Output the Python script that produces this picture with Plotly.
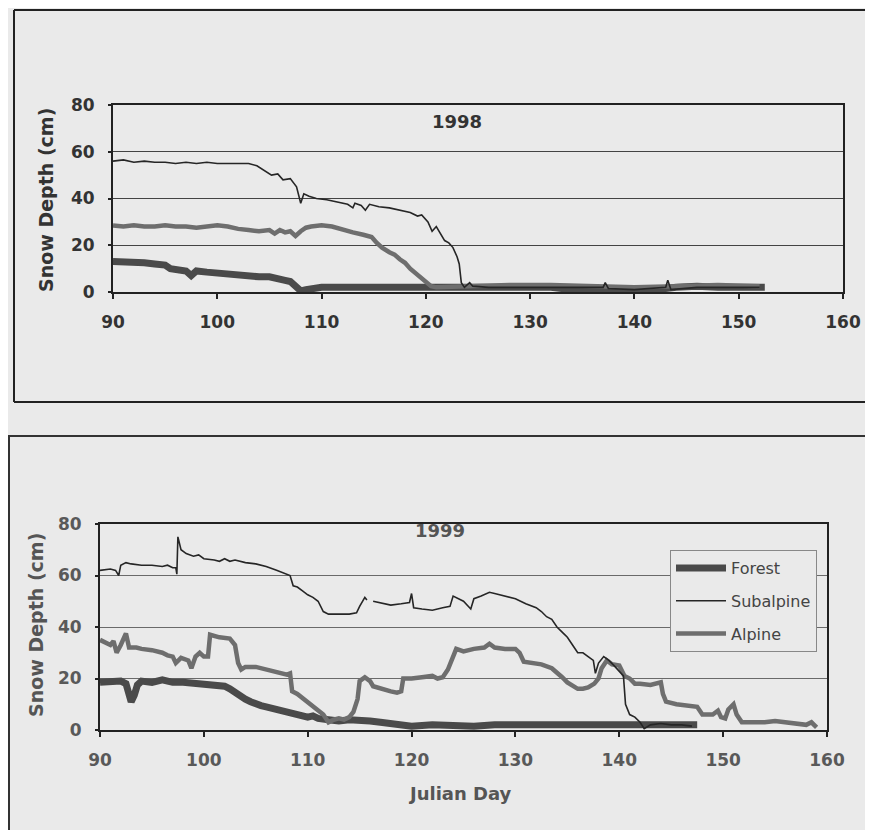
import plotly.graph_objects as go

# ---------------- 1998 data ----------------
d98_sub = [90, 91, 92, 93, 94, 95, 96, 97, 98, 99, 100, 101, 102, 103, 103.8, 104.5, 105.2, 105.8,
           106.3, 107, 107.6, 108, 108.3, 108.8, 109.5, 110.5, 111.5, 112.5, 113, 113.2, 113.8, 114.2,
           114.6, 115.5, 116.5, 117.5, 118.5, 119.2, 119.6, 120.2, 120.6, 121, 121.4, 121.8, 122.2,
           122.6, 123, 123.2, 123.4, 123.7, 124.2, 124.5, 126, 128, 132, 137, 137.2, 137.5, 140, 143,
           143.2, 143.5, 146, 150, 152]
v98_sub = [56, 56.5, 55.5, 56, 55.5, 55.5, 55, 55.5, 55, 55.5, 55, 55, 55, 55, 54, 52, 50, 50.5,
           48, 48.5, 45, 38, 42, 41, 40, 39.5, 38.5, 37.5, 36, 38, 37, 35,
           37.5, 36.5, 36, 35, 34, 32.5, 33, 30, 26, 28, 25, 22, 21,
           19, 15, 12, 4, 2, 4, 2.5, 2, 2, 2, 2, 4, 1.5, 1, 2,
           5, 1, 2, 2, 2]

d98_alp = [90, 91, 92, 93, 94, 95, 96, 97, 98, 99, 100, 101, 102, 103, 104, 105, 105.5, 106, 106.5,
           107, 107.5, 108, 108.5, 109, 110, 111, 112, 113, 114, 114.8, 115.3, 115.8, 116.5, 117,
           117.5, 118, 118.5, 119, 119.5, 120, 120.5, 121, 124, 128, 132, 136, 140, 144, 148, 152]
v98_alp = [28.5, 28, 28.5, 28, 28, 28.5, 28, 28, 27.5, 28, 28.5, 28, 27, 26.5, 26, 26.5, 25, 26.5, 25.5,
           26, 24, 26, 27.5, 28, 28.5, 28, 26.5, 25.5, 24.5, 23.5, 21, 19, 17, 16,
           14, 12.5, 10, 8, 6, 4, 2.5, 2, 2.5, 3, 3, 2.5, 2, 2.5, 3, 2.5]

d98_for = [90, 91, 92, 93, 94, 95, 95.5, 96, 97, 97.5, 98, 99, 100, 101, 102, 103, 104, 105, 106,
           106.5, 107, 107.5, 108, 108.5, 109, 110, 112, 115, 118, 120, 122, 125, 128, 130, 132,
           134, 136, 138, 140, 142, 144, 146, 148, 150, 152.5]
v98_for = [13, 13, 12.5, 12.5, 12, 11.5, 10, 9.5, 9, 7, 9, 8.5, 8, 7.5, 7.5, 7, 6.5, 6.5, 6,
           5, 4.5, 2.5, 0.5, 1, 1.5, 2, 2, 2, 2, 2.5, 2.5, 2.5, 2, 2, 2,
           1, 1, 1.5, 1.5, 1, 2, 2.5, 2, 2, 2]

# ---------------- 1999 data ----------------
d99_sub = [90, 91, 91.5, 91.8, 92, 92.5, 93, 94, 95, 96, 96.5, 97, 97.3, 97.4, 97.5, 97.8, 98.3, 99,
           99.5, 100, 101, 101.5, 102, 102.5, 103, 104, 105, 106, 107, 108, 108.3, 108.6, 109,
           109.5, 110, 110.5, 111, 111.5, 112, 113, 114, 114.7, 115, 115.5, 115.7, 116.0,
           116.3, 117, 118, 119, 119.8, 120, 120.2, 121, 122, 123, 123.7, 124, 124.5, 125, 125.7,
           126, 126.7, 127.5, 128, 129, 130, 131, 132, 132.5, 133, 133.5, 134, 134.5, 135, 135.5,
           136, 136.5, 137, 137.5, 137.7, 138, 138.5, 139, 139.5, 140, 140.4, 140.6, 141, 141.5,
           142, 142.4, 143, 144, 145, 146, 147]
v99_sub = [62, 62.5, 62, 60, 64, 65, 64.5, 64, 64, 63.5, 64, 63, 63, 60.5, 75, 70, 68.5, 67.5,
           68, 66.5, 66, 65.5, 66.5, 65.5, 66, 65, 64.5, 63.5, 62, 60.5, 60, 56, 55.5,
           54, 52.5, 51.5, 50, 46, 45, 45, 45, 45.5, 48, 51.5, 50.5, None,
           50, 49.5, 48.5, 49, 49.5, 53, 47.5, 47, 46.5, 47.5, 48, 52, 51, 50, 47,
           51, 52, 53.5, 53, 52, 51, 49, 47.5, 46, 44, 43, 40, 38, 36, 33,
           30, 30, 28.5, 27, 22, 26, 28.5, 27, 25, 23, 21, 10, 6, 5,
           3, 0.5, 2, 2.5, 2, 2, 1.5]

d99_alp = [90, 90.5, 91, 91.3, 91.6, 92, 92.5, 92.8, 93.5, 94, 95, 96, 96.5, 97, 97.3, 97.8, 98.5,
           98.8, 99.2, 99.6, 100, 100.4, 100.6, 101.5, 102.5, 103, 103.3, 103.6, 104, 105, 106,
           107, 108, 108.3, 108.5, 109, 109.5, 110, 110.5, 111, 111.5, 112, 112.5, 113, 113.5,
           114, 114.4, 114.8, 115, 115.5, 116, 116.3, 117, 117.5, 118, 118.6, 119, 119.2, 120,
           121, 122, 122.5, 123, 123.5, 124, 124.3, 125, 126, 127, 127.5, 128, 129, 130, 130.4,
           130.8, 131.5, 132.5, 133.5, 134, 134.5, 135, 135.5, 136, 136.5, 137, 137.6, 138,
           138.3, 138.8, 139.3, 140, 140.5, 141, 141.5, 142, 143, 144, 144.2, 144.5, 145.5,
           146.5, 147.5, 148, 149, 149.5, 149.8, 150.2, 150.5, 151, 151.3, 151.8, 153, 154,
           155, 156, 157, 158, 158.5, 159]
v99_alp = [35, 34, 33, 34.5, 30, 33, 37.5, 32, 32, 31.5, 31, 30, 29, 28.5, 26, 28, 27,
           24, 28.5, 30, 28.5, 28.5, 37, 36, 35.5, 33, 26, 23.5, 24.5, 24.5, 23.5,
           22.5, 21.5, 22, 15, 14, 12.5, 11, 9.5, 8, 6, 3, 4, 4.5, 4,
           5, 7, 12, 19, 20.5, 19, 17, 16, 15.5, 15, 14.5, 15, 20, 20,
           20.5, 21, 20, 20.5, 23.5, 28, 31.5, 30.5, 31.5, 32, 33.5, 32, 31.5, 31.5, 30,
           26.5, 26, 25.5, 24, 22.5, 20.5, 18.5, 17, 16, 16, 16.5, 18, 20,
           24, 27, 25.5, 25, 21, 20, 18, 18, 17.5, 18.5, 14, 11, 10,
           9.5, 9, 6, 6, 7.5, 5, 4.5, 8, 10, 6, 3, 3, 3,
           3.5, 3, 2.5, 2, 3, 1]

d99_for = [90, 91, 92, 92.5, 92.8, 93, 93.3, 93.6, 94, 95, 96, 97, 98, 99, 100, 101, 102, 102.5,
           103, 103.5, 104, 104.5, 105, 105.5, 106, 107, 108, 109, 110, 110.5, 111, 112, 113,
           114, 115, 116, 117, 118, 119, 120, 122, 124, 126, 128, 130, 132, 134, 136, 138, 140,
           142, 144, 146, 147.5]
v99_for = [18.5, 18.5, 19, 18, 14, 11, 13.5, 17.5, 19, 18.5, 19.5, 18.5, 18.5, 18, 18, 17.5, 17, 16,
           14.5, 13, 12, 11, 10, 9.5, 9, 8, 6.5, 5.5, 5, 5.5, 4.5, 4, 3.5,
           4, 4, 3.5, 3, 2.5, 2, 1.5, 2, 1.5, 1.5, 2, 2, 2, 2.5, 2, 2, 2,
           2.5, 2.5, 2.5, 2]

series_names = ["Forest", "Subalpine", "Alpine"]
x_ticks = [90, 100, 110, 120, 130, 140, 150, 160]
y_ticks = [0, 20, 40, 60, 80]

BG = "#eaeaea"
FONT = "DejaVu Sans"
W, H = 857, 822   # page (with 8px body margin) is then 873 x 838
OFF = 8           # body margin offset

styles = {
    "Forest": dict(color="#4a4a4a", width=7),
    "Subalpine": dict(color="#262626", width=1.6),
    "Alpine": dict(color="#6e6e6e", width=4.5),
}

fig = go.Figure()

top = {"Forest": (d98_for, v98_for), "Alpine": (d98_alp, v98_alp), "Subalpine": (d98_sub, v98_sub)}
bot = {"Forest": (d99_for, v99_for), "Alpine": (d99_alp, v99_alp), "Subalpine": (d99_sub, v99_sub)}

for name in ["Forest", "Alpine", "Subalpine"]:
    x, y = top[name]
    fig.add_trace(go.Scatter(x=x, y=y, mode="lines", line=styles[name], name=name,
                             showlegend=False, xaxis="x", yaxis="y", connectgaps=False))
for name in ["Forest", "Alpine", "Subalpine"]:
    x, y = bot[name]
    fig.add_trace(go.Scatter(x=x, y=y, mode="lines", line=styles[name], name=name,
                             legendgroup=name, legendrank=series_names.index(name) + 1,
                             showlegend=True, xaxis="x2", yaxis="y2", connectgaps=False))


def px_x(p):
    return (p - OFF) / W


def px_y(p):
    return 1 - (p - OFF) / H


def xaxis_common(color):
    return dict(
        range=[90, 160], tickvals=x_ticks, ticks="outside", ticklen=5, tickwidth=1.5,
        tickcolor="#222", showline=True, linecolor="#222", linewidth=2, mirror=True,
        showgrid=False, zeroline=False, automargin=False, ticklabelstandoff=9,
        tickfont=dict(family=FONT, size=17, color=color, weight="bold"),
    )


def yaxis_common(color, gcolor):
    return dict(
        range=[0, 80], tickvals=y_ticks, ticks="outside", ticklen=3, tickwidth=1.5,
        tickcolor="#222", showline=True, linecolor="#222", linewidth=2, mirror=True,
        showgrid=True, gridcolor=gcolor, gridwidth=1.4, zeroline=False, automargin=False,
        ticklabelstandoff=10,
        tickfont=dict(family=FONT, size=17, color=color, weight="bold"),
    )


fig.update_layout(
    template="none",
    width=W, height=H,
    margin=dict(l=0, r=0, t=0, b=0, autoexpand=False),
    paper_bgcolor=BG, plot_bgcolor=BG,
    xaxis=dict(domain=[px_x(113), px_x(843)], anchor="y", **xaxis_common("#333")),
    yaxis=dict(domain=[px_y(292), px_y(105)], anchor="x", **yaxis_common("#333", "#444")),
    xaxis2=dict(domain=[px_x(100), px_x(827)], anchor="y2", **xaxis_common("#595959")),
    yaxis2=dict(domain=[px_y(730), px_y(524)], anchor="x2", **yaxis_common("#595959", "#6a6a6a")),
    legend=dict(
        x=px_x(670), y=px_y(550), xanchor="left", yanchor="top",
        bgcolor=BG, bordercolor="#888", borderwidth=1,
        font=dict(family=FONT, size=16, color="#444"),
        tracegroupgap=9, traceorder="grouped", itemwidth=50,
    ),
    showlegend=True,
)


def ann(text, x, y, size, color, angle=0):
    return dict(text=text, x=px_x(x), y=px_y(y), xref="paper", yref="paper",
                xanchor="center", yanchor="middle", showarrow=False, textangle=angle,
                font=dict(family=FONT, size=size, color=color))


annotations = [
    ann("<b>1998</b>", 457, 121, 18, "#333"),
    ann("<b>1999</b>", 440, 530, 18, "#555"),
    ann("<b>Snow Depth (cm)</b>", 46, 200, 19, "#333", -90),
    ann("<b>Snow Depth (cm)</b>", 36, 625, 19, "#555", -90),
    ann("<b>Julian Day</b>", 460, 793, 18, "#555"),
]
fig.update_layout(annotations=annotations)

# outer panel frames (their right/bottom sides lie beyond the picture)
shapes = [
    dict(type="line", xref="paper", yref="paper", x0=px_x(14), x1=1, y0=px_y(10), y1=px_y(10),
         line=dict(color="#222", width=2)),
    dict(type="line", xref="paper", yref="paper", x0=px_x(14), x1=px_x(14), y0=px_y(10), y1=px_y(402),
         line=dict(color="#222", width=2)),
    dict(type="line", xref="paper", yref="paper", x0=px_x(14), x1=1, y0=px_y(402), y1=px_y(402),
         line=dict(color="#222", width=2)),
    dict(type="line", xref="paper", yref="paper", x0=px_x(8), x1=1, y0=px_y(436), y1=px_y(436),
         line=dict(color="#333", width=2)),
    dict(type="line", xref="paper", yref="paper", x0=px_x(9), x1=px_x(9), y0=px_y(436), y1=0,
         line=dict(color="#333", width=2)),
]
fig.update_layout(shapes=shapes)

fig.write_html("out.html")
